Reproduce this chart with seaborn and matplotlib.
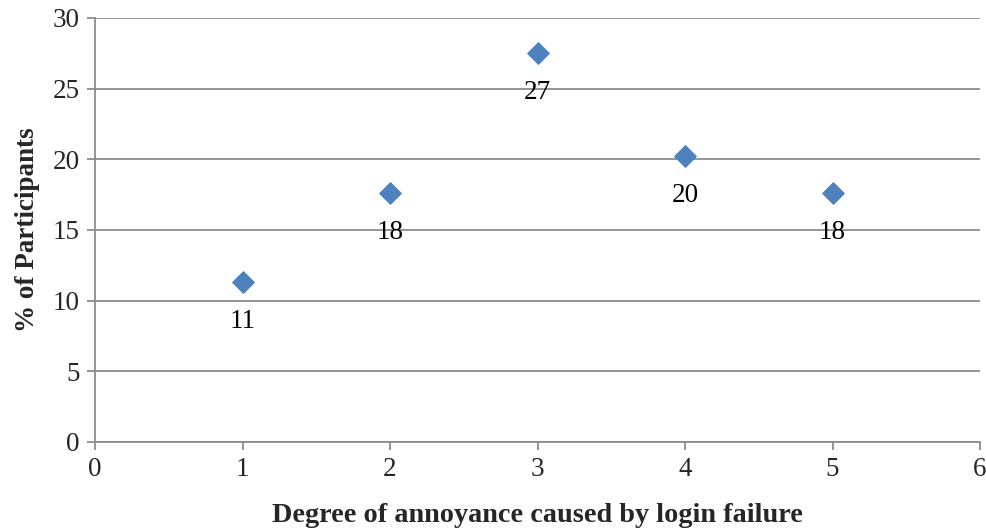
import pandas as pd
import matplotlib
matplotlib.use("Agg")
import matplotlib.pyplot as plt
import seaborn as sns

annoyance = [1, 2, 3, 4, 5]
participants = [11.3, 17.6, 27.5, 20.2, 17.6]
point_labels = ["11", "18", "27", "20", "18"]

df = pd.DataFrame({"Degree": annoyance, "Pct": participants})

sns.set_style("white")
plt.rcParams['font.family'] = ['Liberation Serif', 'DejaVu Serif']

fig = plt.figure(figsize=(9.87, 5.29), dpi=100)
ax = fig.add_axes([0.0963, 0.1645, 0.8966, 0.8015])

sns.scatterplot(
    x='Degree',
    y='Pct',
    data=df,
    ax=ax,
    marker='D',
    s=120,
    color='#4F81BD',
    edgecolor='#4F81BD',
    zorder=3
)

for x, y, lab in zip(annoyance, participants, point_labels):
    ax.annotate(lab, (x, y), xytext=(0, -28), textcoords='offset points',
                ha='center', va='center', fontsize=19.5, color='black')

ax.set_xlim(0, 6)
ax.set_ylim(0, 30)
ax.set_xticks(range(0, 7))
ax.set_yticks(range(0, 31, 5))
ax.yaxis.grid(True, color='#8c8c8c', linewidth=1.3)
ax.xaxis.grid(False)
ax.set_axisbelow(True)

for side in ['top', 'right']:
    ax.spines[side].set_visible(False)
for side in ['left', 'bottom']:
    ax.spines[side].set_color('#8c8c8c')
    ax.spines[side].set_linewidth(1.3)

ax.tick_params(axis='both', direction='out', length=6, width=1.3,
               color='#8c8c8c', labelsize=19.5, pad=5)
ax.tick_params(axis='x', bottom=True)
ax.tick_params(axis='y', left=True)

ax.set_xlabel('Degree of annoyance caused by login failure',
              fontsize=20.3, fontweight='bold', labelpad=15)
ax.set_ylabel('% of Participants', fontsize=19.5, fontweight='bold', labelpad=9)

fig.savefig('out.png', dpi=100)
